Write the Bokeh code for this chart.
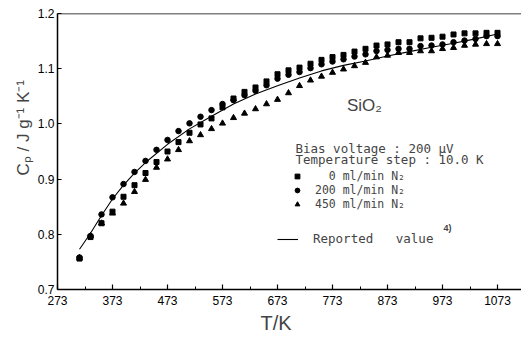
from bokeh.plotting import figure
from bokeh.models import (Range1d, FixedTicker, Label, Legend, LegendItem, Span,
                          NumeralTickFormatter, Title)
from bokeh.embed import file_html
from bokeh.resources import INLINE

# ---- data ----
temps = [313, 333, 353, 373, 393, 413, 433, 453, 473, 493, 513, 533, 553, 573, 593,
         613, 633, 653, 673, 693, 713, 733, 753, 773, 793, 813, 833, 853, 873, 893,
         913, 933, 953, 973, 993, 1013, 1033, 1053, 1073]

cp_0 = [0.756, 0.795, 0.820, 0.841, 0.868, 0.889, 0.911, 0.931, 0.950, 0.967,
        0.984, 0.999, 1.010, 1.030, 1.046, 1.058, 1.066, 1.077, 1.090, 1.097,
        1.102, 1.109, 1.116, 1.121, 1.125, 1.131, 1.136, 1.142, 1.144, 1.148,
        1.148, 1.155, 1.156, 1.158, 1.162, 1.164, 1.164, 1.165, 1.165]

cp_200 = [0.758, 0.797, 0.836, 0.867, 0.891, 0.913, 0.933, 0.953, 0.971, 0.987,
          1.001, 1.013, 1.025, 1.036, 1.043, 1.052, 1.060, 1.070, 1.082, 1.089,
          1.094, 1.101, 1.108, 1.113, 1.117, 1.122, 1.126, 1.132, 1.134, 1.136,
          1.136, 1.141, 1.142, 1.144, 1.148, 1.151, 1.154, 1.159, 1.159]

cp_450 = [0.757, 0.797, 0.820, 0.838, 0.856, 0.877, 0.899, 0.921, 0.936, 0.953,
          0.969, 0.980, 0.991, 1.001, 1.011, 1.019, 1.027, 1.036, 1.044, 1.056,
          1.069, 1.079, 1.086, 1.093, 1.099, 1.105, 1.111, 1.121, 1.124, 1.129,
          1.129, 1.132, 1.132, 1.136, 1.138, 1.142, 1.144, 1.145, 1.145]

ref_t = [313, 333, 353, 373, 393, 413, 433, 473, 513, 553, 593, 633, 673, 713,
         753, 793, 833, 873, 913, 953, 993, 1033, 1073]
ref_cp = [0.773, 0.802, 0.834, 0.864, 0.889, 0.911, 0.930, 0.963, 0.991, 1.014,
          1.036, 1.054, 1.069, 1.083, 1.096, 1.106, 1.114, 1.123, 1.131, 1.139,
          1.146, 1.154, 1.163]

x_ticks = [273, 373, 473, 573, 673, 773, 873, 973, 1073]
x_minor = [323, 423, 523, 623, 723, 823, 923, 1023]
y_ticks = [0.7, 0.8, 0.9, 1.0, 1.1, 1.2]

series_labels = ["\u2007\u20070 ml/min N\u2082", "200 ml/min N\u2082", "450 ml/min N\u2082"]

# ---- figure ----
p = figure(width=521, height=338, output_backend="svg", toolbar_location=None,
           x_range=Range1d(273, 1116.6), y_range=Range1d(0.7, 1.2),
           min_border_left=57, min_border_right=0, min_border_top=13,
           min_border_bottom=49)
p.outline_line_color = None
p.background_fill_color = "white"
p.border_fill_color = "white"
p.xgrid.visible = False
p.ygrid.visible = False

for ax in (p.xaxis[0], p.yaxis[0]):
    ax.axis_line_color = "black"
    ax.axis_line_width = 1.5
    ax.major_tick_line_color = "black"
    ax.major_tick_line_width = 1.2
    ax.major_tick_out = 0
    ax.minor_tick_out = 0
    ax.major_label_text_font = "Liberation Sans"
    ax.major_label_text_font_size = "12px"
    ax.major_label_text_color = "black"

p.xaxis.ticker = FixedTicker(ticks=x_ticks, minor_ticks=x_minor)
p.xaxis.major_tick_in = 5
p.xaxis.minor_tick_in = 3
p.xaxis.minor_tick_line_color = "black"
p.xaxis.major_label_standoff = 6

p.yaxis.ticker = FixedTicker(ticks=y_ticks)
p.yaxis.formatter = NumeralTickFormatter(format="0.0")
p.yaxis.major_tick_in = 4
p.yaxis.minor_tick_line_color = None
p.yaxis.major_label_standoff = 3

# axis titles
p.add_layout(Title(text="T/K", text_font="Liberation Sans", text_font_size="20px",
                   text_font_style="normal", align="left", offset=203, standoff=4),
             "below")
p.add_layout(Title(text="C\u209a / J g\u207b\u00b9 K\u207b\u00b9", text_font="Liberation Sans",
                   text_font_size="17px", text_font_style="normal", align="left",
                   offset=114, standoff=4), "left")

# top frame line
p.add_layout(Span(location=1.2, dimension="width", line_color="black", line_width=1.5))

# ---- data ----
r_line = p.line(ref_t, ref_cp, line_color="black", line_width=1.1)
r0 = p.scatter(temps, cp_0, marker="square", size=5, color="black")
r200 = p.scatter(temps, cp_200, marker="circle", size=5.5, color="black")
r450 = p.scatter(temps, cp_450, marker="triangle", size=6, color="black")

# ---- legends ----
leg1 = Legend(items=[LegendItem(label=series_labels[0], renderers=[r0]),
                     LegendItem(label=series_labels[1], renderers=[r200]),
                     LegendItem(label=series_labels[2], renderers=[r450])],
              location=(233, 78), padding=0, margin=0, spacing=0,
              glyph_width=14, glyph_height=12, label_height=12, label_standoff=11,
              label_text_font="DejaVu Sans Mono", label_text_font_size="11.5px",
              border_line_color=None, background_fill_alpha=0)
leg2 = Legend(items=[LegendItem(label="Reported\u00a0\u00a0\u00a0value", renderers=[r_line])],
              location=(220, 43), padding=0, margin=0,
              glyph_width=21, glyph_height=12, label_height=12, label_standoff=15,
              label_text_font="DejaVu Sans Mono", label_text_font_size="12.5px",
              border_line_color=None, background_fill_alpha=0)
p.add_layout(leg1)
p.add_layout(leg2)

# ---- text annotations ----
p.add_layout(Label(x=831, y=1.0327, text="SiO\u2082", text_font="Liberation Sans",
                   text_font_size="17px", text_align="center", text_baseline="middle"))
p.add_layout(Label(x=705.7, y=0.955, text="Bias voltage : 200 \u03bcV",
                   text_font="DejaVu Sans Mono", text_font_size="12.5px",
                   text_baseline="middle"))
p.add_layout(Label(x=705.7, y=0.9360, text="Temperature step : 10.0 K",
                   text_font="DejaVu Sans Mono", text_font_size="12.5px",
                   text_baseline="middle"))
p.add_layout(Label(x=975, y=0.811, text="4)", text_font="Liberation Sans",
                   text_font_size="9px", text_font_style="bold",
                   text_baseline="middle"))

open("out.html", "w").write(file_html(p, INLINE))
